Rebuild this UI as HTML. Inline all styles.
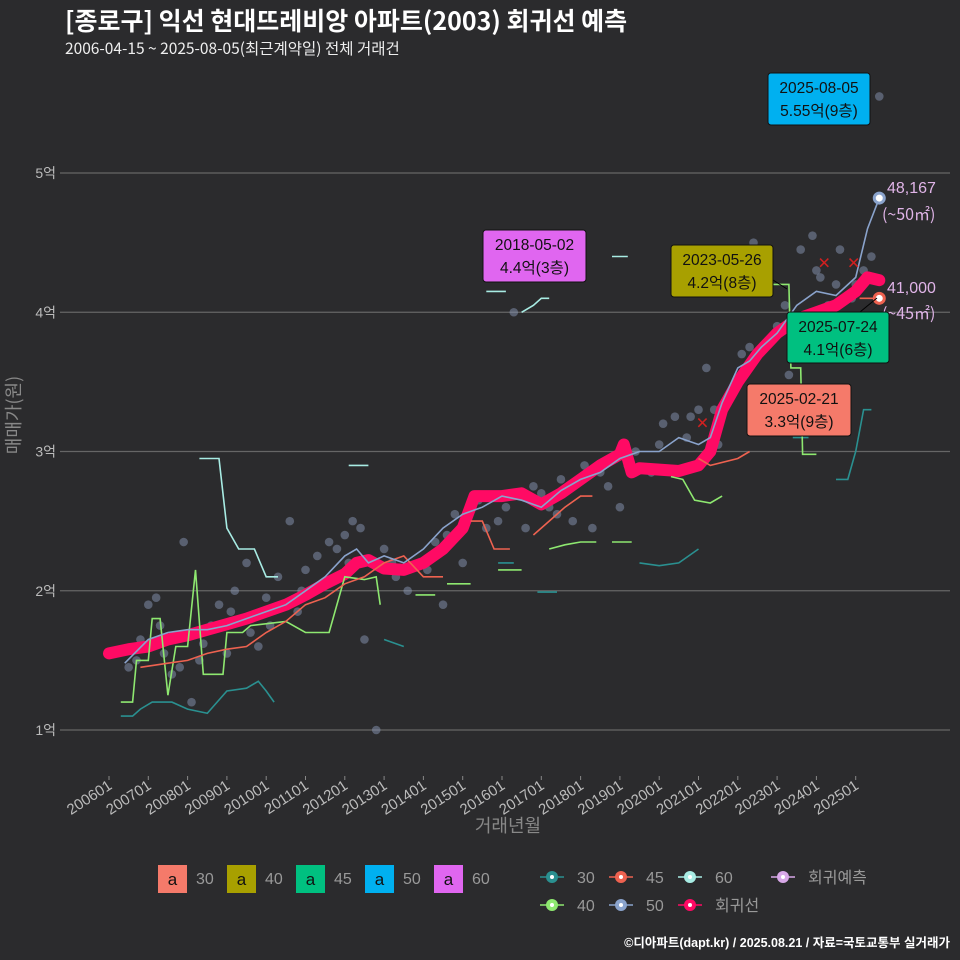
<!DOCTYPE html>
<html><head><meta charset="utf-8"><style>
body{margin:0;background:#2b2b2d;}
svg{display:block;font-family:"Liberation Sans","Noto Sans CJK KR",sans-serif;}
</style></head><body>
<svg id="c" width="960" height="960" viewBox="0 0 960 960">
<rect width="960" height="960" fill="#2b2b2d"/>
<text x="65" y="30" fill="#fff" font-size="25" font-weight="bold" font-family="Noto Sans CJK KR, sans-serif">[종로구] 익선 현대뜨레비앙 아파트(2003) 회귀선 예측</text>
<text x="65" y="54" fill="#eee" font-size="15.5" font-family="Noto Sans CJK KR, sans-serif">2006-04-15 ~ 2025-08-05(최근계약일) 전체 거래건</text>
<g id="grid"></g><g id="marks"></g><g id="anno"></g>
<text x="20" y="415" fill="#888" font-size="18" transform="rotate(-90 20 415)" text-anchor="middle" font-family="Noto Sans CJK KR, sans-serif">매매가(원)</text>
<text x="508" y="832" fill="#888" font-size="18" text-anchor="middle" font-family="Noto Sans CJK KR, sans-serif">거래년월</text>
<g id="legend"></g>
<text x="950" y="947" fill="#fff" font-size="12.5" font-weight="bold" text-anchor="end">©디아파트(dapt.kr) / 2025.08.21 / 자료=국토교통부 실거래가</text>
</svg>
<script>
const yTicks=[1,2,3,4,5];
const yTickLabels=["1억","2억","3억","4억","5억"];
const xTicks=["200601","200701","200801","200901","201001","201101","201201","201301","201401","201501","201601","201701","201801","201901","202001","202101","202201","202301","202401","202501"];
const regYears=[2006.0,2006.5,2007,2007.5,2008,2008.5,2009,2009.5,2010,2010.5,2011,2011.5,2012,2012.3,2012.6,2013,2013.5,2014,2014.5,2015,2015.3,2015.6,2016,2016.5,2017,2017.5,2018,2018.5,2019,2019.1,2019.3,2019.5,2020,2020.5,2021,2021.3,2021.6,2022,2022.5,2023,2023.5,2024,2024.5,2025,2025.3,2025.6];
const regVals=[1.55,1.58,1.6,1.65,1.68,1.72,1.76,1.8,1.85,1.9,1.97,2.05,2.12,2.2,2.22,2.16,2.15,2.2,2.3,2.45,2.68,2.68,2.68,2.7,2.62,2.7,2.8,2.9,2.98,3.05,2.85,2.88,2.87,2.86,2.9,3.0,3.3,3.5,3.7,3.85,3.95,4.0,4.05,4.15,4.25,4.23];
const s50=[[2006.4,1.48],[2007,1.65],[2007.5,1.7],[2008,1.72],[2008.5,1.72],[2009,1.75],[2009.5,1.8],[2010,1.85],[2010.5,1.9],[2011,2.0],[2011.5,2.1],[2012,2.25],[2012.3,2.3],[2012.6,2.2],[2013,2.25],[2013.5,2.2],[2014,2.3],[2014.5,2.45],[2015,2.55],[2015.5,2.6],[2016,2.68],[2016.5,2.65],[2017,2.6],[2017.5,2.72],[2018,2.8],[2018.5,2.85],[2019,2.95],[2019.5,3.0],[2020,3.0],[2020.5,3.1],[2021,3.05],[2021.3,3.1],[2021.6,3.35],[2022,3.6],[2022.3,3.65],[2022.6,3.75],[2023,3.85],[2023.5,4.05],[2024,4.15],[2024.5,4.12],[2025,4.25],[2025.3,4.6],[2025.6,4.82]];
const s40=[[2006.3,1.2],[2006.6,1.2],[2006.7,1.5],[2007,1.5],[2007.1,1.8],[2007.3,1.8],[2007.5,1.25],[2007.7,1.6],[2008,1.6],[2008.2,2.15],[2008.4,1.4],[2008.9,1.4],[2009,1.7],[2009.4,1.7],[2009.6,1.75],[2010.5,1.78],[2011,1.7],[2011.6,1.7],[2012,2.1],[2012.5,2.08],[2012.8,2.1],[2012.9,1.9],null,[2013.8,1.97],[2014.3,1.97],null,[2014.6,2.05],[2015.2,2.05],null,[2015.9,2.15],[2016.5,2.15],null,[2017.2,2.3],[2017.6,2.33],[2018,2.35],[2018.4,2.35],null,[2018.8,2.35],[2019.3,2.35],null,[2020.3,2.82],[2020.6,2.8],[2020.9,2.65],[2021.3,2.63],[2021.6,2.68],null,[2022.8,4.2],[2023.3,4.2],[2023.35,3.6],[2023.6,3.6],[2023.65,2.98],[2024,2.98]];
const s30=[[2006.3,1.1],[2006.6,1.1],[2006.8,1.15],[2007.1,1.2],[2007.6,1.2],[2008,1.15],[2008.5,1.12],[2009,1.28],[2009.5,1.3],[2009.8,1.35],[2010,1.28],[2010.2,1.2],null,[2013,1.65],[2013.5,1.6],null,[2015.9,2.2],[2016.3,2.2],null,[2016.9,1.99],[2017.4,1.99],null,[2019.5,2.2],[2020,2.18],[2020.5,2.2],[2021,2.3],null,[2023.4,3.1],[2023.8,3.1],null,[2024.5,2.8],[2024.8,2.8],[2025,3.0],[2025.2,3.3],[2025.4,3.3]];
const s45=[[2006.8,1.45],[2007.5,1.48],[2008,1.5],[2008.5,1.55],[2009,1.58],[2009.5,1.6],[2010,1.7],[2010.5,1.78],[2011,1.9],[2011.5,1.95],[2012,2.05],[2012.5,2.1],[2013,2.2],[2013.5,2.25],[2014,2.1],[2014.5,2.1],null,[2015.2,2.5],[2015.5,2.5],[2015.8,2.3],[2016.2,2.3],null,[2016.8,2.4],[2017.2,2.5],[2017.6,2.6],[2018,2.68],[2018.3,2.68],null,[2021,2.95],[2021.3,2.9],[2022,2.95],[2022.3,3.0],null,[2025.1,4.1],[2025.6,4.1]];
const s60=[[2008.3,2.95],[2008.8,2.95],[2009,2.45],[2009.3,2.3],[2009.7,2.3],[2010,2.1],[2010.3,2.1],null,[2012.1,2.9],[2012.6,2.9],null,[2015.6,4.15],[2016.1,4.15],null,[2016.5,4.0],[2016.8,4.05],[2017,4.1],[2017.2,4.1],null,[2018.8,4.4],[2019.2,4.4]];
const pts=[[2006.5,1.45],[2006.8,1.65],[2007,1.9],[2007.2,1.95],[2007.4,1.55],[2007.6,1.4],[2007.9,2.35],[2008.1,1.2],[2008.3,1.5],[2008.6,1.75],[2008.8,1.9],[2009,1.55],[2009.2,2.0],[2009.5,2.2],[2009.8,1.6],[2010,1.95],[2010.3,2.1],[2010.6,2.5],[2010.8,1.85],[2011,2.15],[2011.3,2.25],[2011.5,2.05],[2011.8,2.3],[2012,2.4],[2012.2,2.5],[2012.5,1.65],[2012.8,1.0],[2013,2.3],[2013.3,2.1],[2013.6,2.0],[2014,2.2],[2014.3,2.35],[2014.5,1.9],[2014.8,2.55],[2015,2.2],[2015.4,2.65],[2015.9,2.5],[2016.3,4.0],[2016.6,2.45],[2016.8,2.75],[2017.2,2.6],[2017.5,2.8],[2017.8,2.5],[2018.1,2.9],[2018.3,2.45],[2018.7,2.75],[2019,2.6],[2019.4,3.0],[2019.8,2.85],[2020.1,3.2],[2020.4,3.25],[2020.7,3.1],[2021,3.3],[2021.2,3.6],[2021.5,3.05],[2021.8,3.4],[2022.1,3.7],[2022.4,4.5],[2022.7,3.3],[2023,3.9],[2023.3,3.55],[2023.6,4.45],[2023.9,4.55],[2024.1,4.25],[2024.3,4.05],[2024.6,4.45],[2024.9,4.1],[2025.2,4.3],[2025.4,4.4],[2025.6,5.55],[2006.7,1.5],[2007.1,1.6],[2007.3,1.75],[2007.8,1.45],[2008.4,1.62],[2009.1,1.85],[2009.6,1.7],[2010.1,1.75],[2010.9,2.0],[2011.6,2.35],[2012.1,2.2],[2012.4,2.45],[2013.2,2.2],[2014.1,2.15],[2014.6,2.4],[2015.1,2.55],[2015.6,2.45],[2016.1,2.6],[2017,2.7],[2017.4,2.55],[2018.5,2.85],[2019.2,2.9],[2020,3.05],[2020.8,3.25],[2021.4,3.3],[2022.3,3.75],[2023.2,4.05],[2024,4.3],[2024.5,4.2],[2025,4.2]];
const xMarks=[[2021.1,3.2],[2024.2,4.35],[2024.95,4.35]];

const X=y=>109+(y-2006)*39.3, Y=v=>730-(v-1)*139.25;
const NS='http://www.w3.org/2000/svg';
function mk(t,a,p){const e=document.createElementNS(NS,t);for(const k in a)e.setAttribute(k,a[k]);p.appendChild(e);return e;}
const grid=document.getElementById('grid'),marks=document.getElementById('marks'),anno=document.getElementById('anno'),leg=document.getElementById('legend');
yTicks.forEach((v,i)=>{
 const l=mk('line',{x1:60,x2:950,y1:Y(v),y2:Y(v),stroke:'#666','stroke-width':1.2},grid);
 
 
 const t=mk('text',{x:56,y:Y(v)+5,fill:'#bbb','font-size':14,'text-anchor':'end'},grid);t.textContent=yTickLabels[i];
 
 
});
xTicks.forEach((s,i)=>{
 const x=X(2006+i);
 mk('line',{x1:x,x2:x,y1:776,y2:780,stroke:'#888'},grid);
 const t=mk('text',{x:x+4,y:788,fill:'#bbb','font-size':15,'text-anchor':'end',transform:`rotate(-33 ${x+4} 788)`},grid);t.textContent=s;
 
 
});
pts.forEach(p=>{
 const c=mk('circle',{cx:X(p[0]),cy:Y(p[1]),r:4.3,fill:'#8896b4',opacity:0.5},marks);
 
 
});
function pathOf(arr){let d='',m=true;arr.forEach(p=>{if(!p){m=true;return;}d+=(m?'M':'L')+X(p[0]).toFixed(1)+','+Y(p[1]).toFixed(1);m=false;});return d;}
const reg=regYears.map((y,i)=>[y,regVals[i]]);
let r=mk('path',{d:pathOf(reg),fill:'none',stroke:'#ff0a64','stroke-width':12,'stroke-linejoin':'round','stroke-linecap':'round'},marks);


[[s30,'#2a9090','series-30-line'],[s40,'#8ee870','series-40-line'],[s45,'#ee6250','series-45-line'],[s60,'#a8ece4','series-60-line'],[s50,'#8aa3cc','series-50-line']].forEach(([a,c,n])=>{
 const p=mk('path',{d:pathOf(a),fill:'none',stroke:c,'stroke-width':1.6},marks);
 
 
});
xMarks.forEach(p=>{
 const g=mk('text',{x:X(p[0]),y:Y(p[1])+5,fill:'#d02020','font-size':16,'text-anchor':'middle'},marks);g.textContent='✕';
 
 
});
const end50=s50[s50.length-1];
let e1=mk('circle',{cx:X(end50[0]),cy:Y(end50[1]),r:5,fill:'#fff',stroke:'#8aa3cc','stroke-width':3},marks);


let e2=mk('circle',{cx:X(2025.6),cy:Y(4.1),r:5,fill:'#fff',stroke:'#ee6250','stroke-width':3},marks);


function txt(x,y,s,c,fs,anc,p,n){const t=mk('text',{x,y,fill:c,'font-size':fs,'text-anchor':anc||'start'},p);t.textContent=s;return t;}
txt(887,193,'48,167','#e0b4e8',16,'start',anno,'pred-value-50');
txt(882,220,'(~50㎡)','#e0b4e8',16,'start',anno,'pred-area-50').setAttribute('font-family','Noto Sans CJK KR, sans-serif');
txt(887,293,'41,000','#e0b4e8',16,'start',anno,'pred-value-45');
txt(882,319,'(~45㎡)','#e0b4e8',16,'start',anno,'pred-area-45').setAttribute('font-family','Noto Sans CJK KR, sans-serif');
function box(x,y,w,h,c,l1,l2,n){const b=mk('rect',{x,y,width:w,height:h,rx:3,fill:c,stroke:'#111'},anno);
 txt(x+w/2,y+20,l1,'#111',15.5,'middle',anno,n+'-date');txt(x+w/2,y+43,l2,'#111',15.5,'middle',anno,n+'-price');}
mk('line',{x1:773,y1:280,x2:787,y2:289,stroke:'#000'},anno);
mk('line',{x1:860,y1:312,x2:877,y2:298,stroke:'#000'},anno);
box(768,73,102,52,'#00b0f0','2025-08-05','5.55억(9층)','label-max-50');
box(483,230,103,52,'#e066f0','2018-05-02','4.4억(3층)','label-max-60');
box(671,245,102,52,'#a8a000','2023-05-26','4.2억(8층)','label-max-40');
box(787,312,102,51,'#00c080','2025-07-24','4.1억(6층)','label-max-45');
box(747,384,104,52,'#f57a6a','2025-02-21','3.3억(9층)','label-max-30');
const fillLeg=[['#f57a6a','30'],['#a8a000','40'],['#00c080','45'],['#00b0f0','50'],['#e066f0','60']];
fillLeg.forEach((f,i)=>{const x=158+i*69;
 const b=mk('rect',{x,y:865,width:29,height:28,fill:f[0]},leg);
 txt(x+14.5,885,'a','#111',17,'middle',leg,'legend-key-glyph');
 txt(x+38,884,f[1],'#999',16,'start',leg,'legend-label-text-'+f[1]);});
const ptLeg=[['#2a9090','30',552,877],['#ee6250','45',621,877],['#a8ece4','60',690,877],['#d8a8e8','회귀예측',783,877],['#8ee870','40',552,905],['#8aa3cc','50',621,905],['#ff0a64','회귀선',690,905]];
ptLeg.forEach(p=>{
 mk('line',{x1:p[2]-12,x2:p[2]+12,y1:p[3],y2:p[3],stroke:p[0],'stroke-width':1.5},leg);
 const c=mk('circle',{cx:p[2],cy:p[3],r:6,fill:p[0]},leg);
 mk('circle',{cx:p[2],cy:p[3],r:2,fill:'#fff'},leg);
 txt(p[2]+25,p[3]+6,p[1],'#999',16,'start',leg,'legend-text-'+p[1]);});
</script>
</body></html>
